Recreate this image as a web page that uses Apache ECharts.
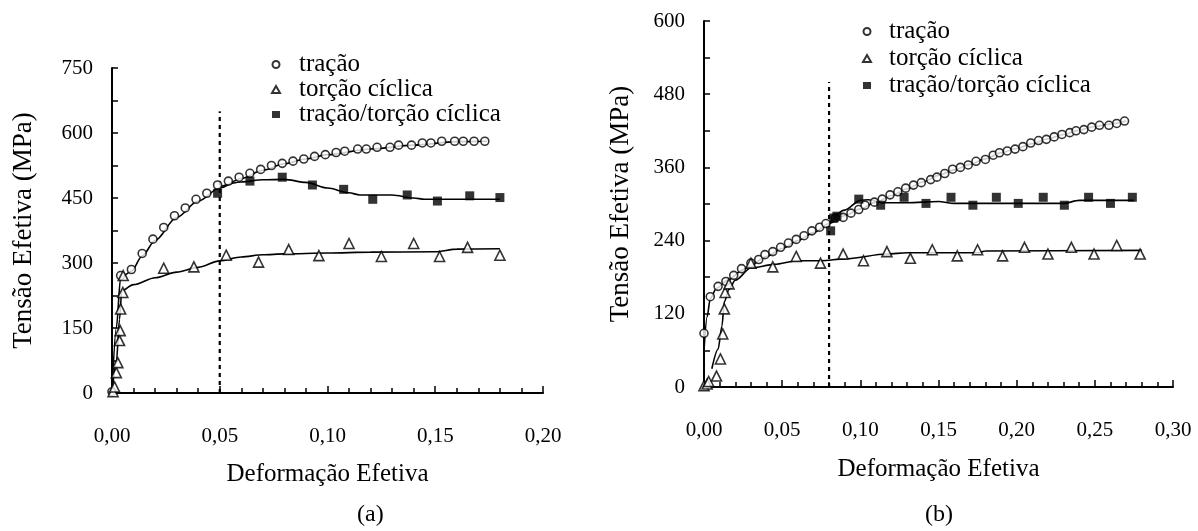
<!DOCTYPE html>
<html>
<head>
<meta charset="utf-8">
<script src="https://cdn.jsdelivr.net/npm/echarts@6/dist/echarts.min.js"></script>
<style>html,body{margin:0;padding:0;background:#fff}#c{width:1198px;height:531px}</style>
</head>
<body>
<div id="c"></div>
<script>
// ---- Data (a) ----
const tracaoA = [[0,3],[0.004,271],[0.009,285],[0.014,322],[0.019,355],[0.024,382],[0.029,409],[0.034,427],[0.039,447],[0.044,461],[0.049,480],[0.054,489],[0.059,498],[0.064,507],[0.069,516],[0.074,525],[0.079,530],[0.084,535],[0.089,540],[0.094,546],[0.099,550],[0.104,555],[0.108,558],[0.114,563],[0.118,563],[0.123,567],[0.129,567],[0.133,572],[0.139,572],[0.144,577],[0.148,577],[0.153,581],[0.159,581],[0.163,581],[0.168,581],[0.173,581]];
const torcaoA = [[0.0005,3],[0.0012,14],[0.002,47],[0.0027,70],[0.0035,121],[0.0038,144],[0.004,194],[0.005,232],[0.0052,271],[0.024,288],[0.038,291],[0.053,318],[0.068,302],[0.082,331],[0.096,317],[0.110,345],[0.125,315],[0.140,345],[0.152,315],[0.165,336],[0.180,318]];
const tracaoTorcaoA = [[0.049,461],[0.064,489],[0.079,498],[0.093,480],[0.1075,470],[0.121,447],[0.137,457],[0.151,443],[0.166,455],[0.180,451]];
const fitTracaoA = [[0,0],[0.002,150],[0.004,266],[0.009,281],[0.014,316],[0.02,352],[0.03,405],[0.04,443],[0.05,473],[0.06,495],[0.07,514],[0.08,529],[0.09,540],[0.10,550],[0.12,563],[0.14,572],[0.16,580],[0.174,581]];
const fitTorcaoA = [[0,0],[0.002,70],[0.0035,170],[0.0045,236],[0.01,250],[0.02,266],[0.03,279],[0.04,290],[0.05,305],[0.06,314],[0.07,319],[0.08,321],[0.10,323],[0.12,325],[0.15,326],[0.16,332],[0.18,333]];
const fitTracaoTorcaoA = [[0.05,476],[0.06,487],[0.07,492],[0.08,493],[0.09,486],[0.10,473],[0.11,462],[0.115,457],[0.13,457],[0.14,450],[0.145,447],[0.18,447]];
const dashA = [[0.05,0],[0.05,650]];

// ---- Data (b) ----
const tracaoB = [[0,88],[0.004,148],[0.009,165],[0.014,173],[0.019,183],[0.024,194],[0.030,203],[0.035,209],[0.039,217],[0.044,222],[0.049,229],[0.054,236],[0.059,242],[0.064,248],[0.069,256],[0.074,262],[0.078,268],[0.084,277],[0.089,278],[0.094,285],[0.099,291],[0.103,298],[0.109,303],[0.114,308],[0.119,315],[0.124,320],[0.129,326],[0.134,331],[0.139,335],[0.145,340],[0.149,344],[0.154,350],[0.159,357],[0.164,360],[0.169,364],[0.174,370],[0.180,373],[0.185,380],[0.189,384],[0.194,387],[0.199,390],[0.204,394],[0.209,400],[0.214,404],[0.219,406],[0.224,410],[0.229,414],[0.234,417],[0.238,420],[0.243,422],[0.248,426],[0.253,429],[0.259,429],[0.264,432],[0.269,436]];
const torcaoB = [[0,2],[0.002,5],[0.003,9],[0.008,18],[0.0105,46],[0.012,87],[0.013,128],[0.0135,155],[0.016,169],[0.030,203],[0.044,197],[0.059,214],[0.0745,203],[0.089,218],[0.102,207],[0.117,222],[0.132,211],[0.146,225],[0.162,215],[0.175,225],[0.191,215],[0.205,229],[0.220,218],[0.235,229],[0.2495,218],[0.264,232],[0.279,218]];
const tracaoTorcaoB = [[0.081,256],[0.083,277],[0.085,280],[0.099,308],[0.113,298],[0.128,311],[0.142,301],[0.158,311],[0.172,298],[0.187,311],[0.201,301],[0.217,311],[0.2305,298],[0.246,311],[0.260,301],[0.274,311]];
const fitTracaoB = [[0,60],[0.002,115],[0.004,145],[0.008,162],[0.015,175],[0.025,192],[0.03,200],[0.04,214],[0.05,227],[0.06,240],[0.07,253],[0.08,268],[0.09,281],[0.10,292],[0.11,303],[0.12,314],[0.13,325],[0.14,336],[0.15,347],[0.16,356],[0.17,365],[0.18,374],[0.19,384],[0.20,391],[0.21,399],[0.22,407],[0.23,414],[0.24,421],[0.25,427],[0.26,431],[0.27,436]];
const fitTorcaoB = [[0.005,30],[0.009,62],[0.0115,100],[0.013,140],[0.016,160],[0.02,175],[0.03,195],[0.045,201],[0.06,207],[0.075,207],[0.09,210],[0.117,218],[0.13,220],[0.175,220],[0.18,223],[0.28,224]];
const fitTracaoTorcaoB = [[0.08,268],[0.09,290],[0.10,306],[0.105,307],[0.115,302],[0.13,302],[0.15,304],[0.16,301],[0.23,301],[0.24,306],[0.275,306]];
const dashB = [[0.08,0],[0.08,500]];

const seriesNames = ['tração', 'torção cíclica', 'tração/torção cíclica'];
const xAxisName = 'Deformação Efetiva';
const yAxisName = 'Tensão Efetiva (MPa)';
const panelLabels = ['(a)', '(b)'];

const FONT = '"Liberation Serif", "Times New Roman", serif';
const txt = {color:'#000', fontFamily: FONT};

function xAx(idx, max, gap, lm) {
  return {
    type:'value', gridIndex: idx, min:0, max:max, interval:0.05,
    name: xAxisName, nameLocation:'middle', nameGap: gap,
    nameTextStyle: Object.assign({fontSize:25}, txt),
    axisLine:{onZero:false, lineStyle:{color:'#000', width:2}},
    axisTick:{inside:true, length:7, lineStyle:{color:'#000', width:1.5}},
    minorTick:{show:true, splitNumber:5, length:5, lineStyle:{color:'#000', width:1.5}},
    splitLine:{show:false}, minorSplitLine:{show:false},
    axisLabel: Object.assign({fontSize:21, margin: lm, formatter: v => v.toFixed(2).replace('.', ',')}, txt)
  };
}
function yAx(idx, max, interval, gap) {
  return {
    type:'value', gridIndex: idx, min:0, max:max, interval: interval,
    name: yAxisName, nameLocation:'middle', nameGap: gap,
    nameTextStyle: Object.assign({fontSize:27}, txt),
    axisLine:{onZero:false, lineStyle:{color:'#000', width:2}},
    axisTick:{inside:true, length:6, lineStyle:{color:'#000', width:1.5}},
    minorTick:{show:true, splitNumber:2, length:6, lineStyle:{color:'#000', width:1.5}},
    splitLine:{show:false}, minorSplitLine:{show:false},
    axisLabel: Object.assign({fontSize:21, margin:19}, txt)
  };
}

const circleStyle = {color:'#fff', borderColor:'#000', borderWidth:1.6};
const triStyle = {color:'#fff', borderColor:'#000', borderWidth:1.6};
const sqStyle = {color:'#000', borderColor:'#000', borderWidth:0};

function fit(idx, data) {
  return {type:'line', name:'fit', xAxisIndex:idx, yAxisIndex:idx, data:data, smooth:0.3, smoothMonotone:'x',
    symbol:'none', lineStyle:{color:'#000', width:1.6}, z:2, silent:true};
}
function dash(idx, data) {
  return {type:'line', name:'dash', xAxisIndex:idx, yAxisIndex:idx, data:data, symbol:'none',
    lineStyle:{color:'#000', width:2.2, type:[4,4]}, z:1, silent:true};
}
function scat(idx, name, data, symbol, size, style) {
  return {type:'scatter', name:name, xAxisIndex:idx, yAxisIndex:idx, data:data, symbol:symbol, symbolSize:size,
    itemStyle:style, z:5, silent:true};
}

const chart = echarts.init(document.getElementById('c'), null, {renderer:'canvas'});
chart.setOption({
  backgroundColor:'#fff',
  animation:false,
  grid:[
    {left:112, top:68, width:431, height:325},
    {left:704, top:21, width:469, height:366}
  ],
  xAxis:[xAx(0, 0.2, 69, 33), xAx(1, 0.3, 70, 33)],
  yAxis:[yAx(0, 750, 150, 75), yAx(1, 600, 120, 70)],
  legend:[
    {left:266, top:47, orient:'vertical', itemGap:0, itemWidth:8, itemHeight:7, data:seriesNames,
      textStyle:Object.assign({fontSize:25, lineHeight:23, padding:[0,0,0,14]}, txt), selectedMode:false},
    {left:857, top:14, orient:'vertical', itemGap:2, itemWidth:8, itemHeight:7, data:seriesNames,
      textStyle:Object.assign({fontSize:25, lineHeight:24, padding:[0,0,0,13]}, txt), selectedMode:false}
  ],
  graphic:[
    {type:'text', left:357, top:503, style:{text:panelLabels[0], font:'24px ' + FONT, fill:'#000'}},
    {type:'text', left:925, top:503, style:{text:panelLabels[1], font:'24px ' + FONT, fill:'#000'}}
  ],
  series:[
    dash(0, dashA),
    fit(0, fitTracaoA), fit(0, fitTorcaoA), fit(0, fitTracaoTorcaoA),
    scat(0, seriesNames[0], tracaoA, 'circle', 8, circleStyle),
    scat(0, seriesNames[1], torcaoA, 'triangle', 10, triStyle),
    scat(0, seriesNames[2], tracaoTorcaoA, 'rect', 9, sqStyle),
    dash(1, dashB),
    fit(1, fitTracaoB), fit(1, fitTorcaoB), fit(1, fitTracaoTorcaoB),
    scat(1, seriesNames[0], tracaoB, 'circle', 8, circleStyle),
    scat(1, seriesNames[1], torcaoB, 'triangle', 10, triStyle),
    scat(1, seriesNames[2], tracaoTorcaoB, 'rect', 9, sqStyle)
  ]
});
</script>
</body>
</html>
